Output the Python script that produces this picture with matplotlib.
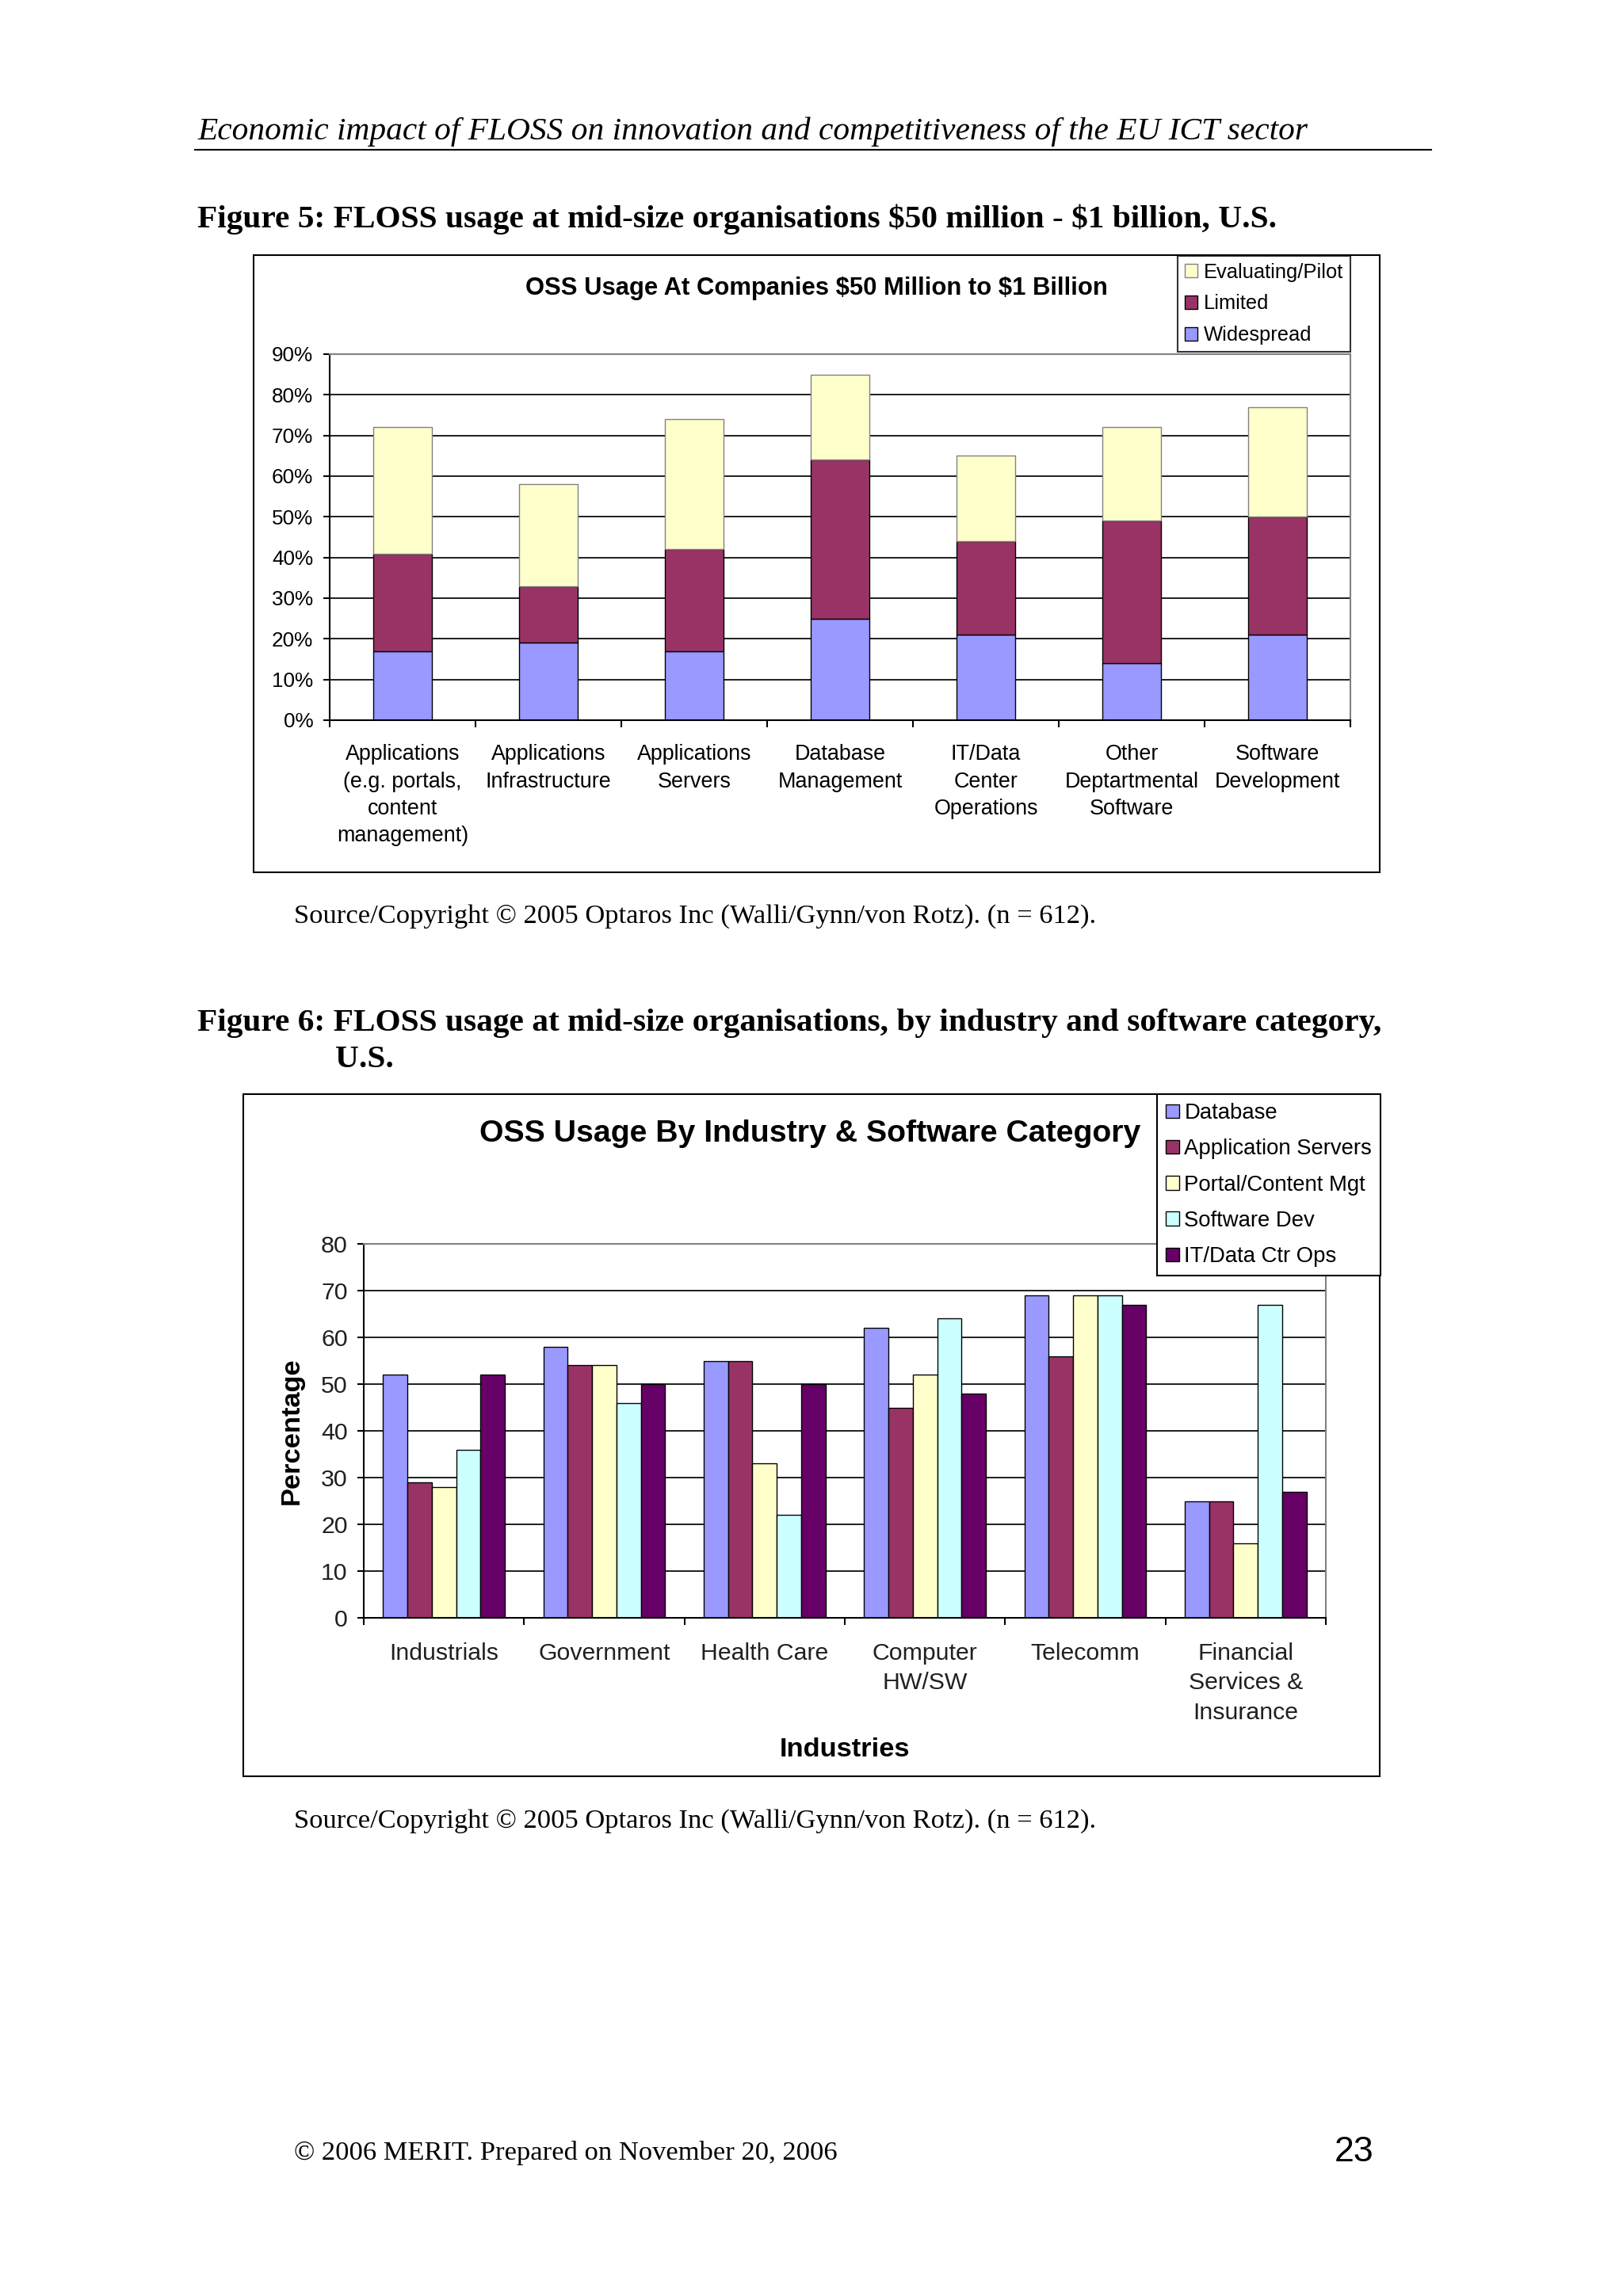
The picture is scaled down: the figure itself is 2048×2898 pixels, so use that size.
import numpy as np
import matplotlib
matplotlib.use("Agg")
from matplotlib import pyplot as plt
from matplotlib.patches import Rectangle
from matplotlib.lines import Line2D
from matplotlib.ticker import FuncFormatter, FixedLocator

W, H, DPI = 2048, 2898, 248

# ---- figure 5 data (percent of companies) ----
cats1 = ['Applications\n(e.g. portals,\ncontent\nmanagement)', 'Applications\nInfrastructure',
         'Applications\nServers', 'Database\nManagement', 'IT/Data\nCenter\nOperations',
         'Other\nDeptartmental\nSoftware', 'Software\nDevelopment']
widespread = [17, 19, 17, 25, 21, 14, 21]
limited = [24, 14, 25, 39, 23, 35, 29]
evaluating = [31, 25, 32, 21, 21, 23, 27]

# ---- figure 6 data ----
industries = ['Industrials', 'Government', 'Health Care', 'Computer\nHW/SW', 'Telecomm',
              'Financial\nServices &\nInsurance']
categories = ['Database', 'Application Servers', 'Portal/Content Mgt', 'Software Dev', 'IT/Data Ctr Ops']
database = [52, 58, 55, 62, 69, 25]
app_servers = [29, 54, 55, 45, 56, 25]
portal = [28, 54, 33, 52, 69, 16]
software_dev = [36, 46, 22, 64, 69, 67]
it_ops = [52, 50, 50, 48, 67, 27]

c_blue, c_plum, c_cream, c_cyan, c_purple = '#9999FF', '#993366', '#FFFFCC', '#CCFFFF', '#660066'
SANS = 'Liberation Sans'
SERIF = 'Liberation Serif'


def box(x0, x1, y0, y1):
    # pixel box -> figure fraction [left, bottom, width, height]
    return [x0 / W, 1 - y1 / H, (x1 - x0) / W, (y1 - y0) / H]


fig = plt.figure(figsize=(W / DPI, H / DPI), dpi=DPI, facecolor='white')

# page furniture
fig.text(249 / W, 1 - 176 / H, 'Economic impact of FLOSS on innovation and competitiveness of the EU ICT sector',
         family=SERIF, style='italic', fontsize=12, va='baseline')
fig.add_artist(Line2D([246 / W, 1806 / W], [1 - 188.5 / H] * 2, color='black', lw=0.6))
fig.text(249 / W, 1 - 287 / H, 'Figure 5: FLOSS usage at mid-size organisations \\$50 million - \\$1 billion, U.S.',
         family=SERIF, weight='bold', fontsize=12, va='baseline')
fig.text(371 / W, 1 - 1165 / H, 'Source/Copyright © 2005 Optaros Inc (Walli/Gynn/von Rotz). (n = 612).',
         family=SERIF, fontsize=10, va='baseline')
fig.text(249 / W, 1 - 1301 / H,
         'Figure 6: FLOSS usage at mid-size organisations, by industry and software category,',
         family=SERIF, weight='bold', fontsize=12, va='baseline')
fig.text(423 / W, 1 - 1347 / H, 'U.S.', family=SERIF, weight='bold', fontsize=12, va='baseline')
fig.text(371 / W, 1 - 2307 / H, 'Source/Copyright © 2005 Optaros Inc (Walli/Gynn/von Rotz). (n = 612).',
         family=SERIF, fontsize=10, va='baseline')
fig.text(371 / W, 1 - 2726 / H, '© 2006 MERIT. Prepared on November 20, 2006',
         family=SERIF, fontsize=10, va='baseline')
fig.text(1734 / W, 1 - 2728 / H, '23', family=SANS, fontsize=13, va='baseline', ha='right')

# chart frames
for x0, x1, y0, y1 in [(320, 1741, 322, 1101), (307, 1741, 1381, 2242)]:
    fig.add_artist(Rectangle((x0 / W, 1 - y1 / H), (x1 - x0) / W, (y1 - y0) / H,
                             transform=fig.transFigure, fill=False, ec='black', lw=0.6))


def style_axes(ax, ncat):
    ax.set_xlim(-0.5, ncat - 0.5)
    ax.set_axisbelow(True)
    ax.yaxis.grid(True, color='black', lw=0.5)
    for s in ['top', 'right']:
        ax.spines[s].set_color('#808080')
        ax.spines[s].set_linewidth(0.6)
    for s in ['left', 'bottom']:
        ax.spines[s].set_linewidth(0.6)
    ax.set_xticks(range(ncat))
    ax.xaxis.set_minor_locator(FixedLocator(np.arange(-0.5, ncat, 1)))
    ax.tick_params(axis='x', which='major', length=0)
    ax.tick_params(axis='x', which='minor', length=2.6, width=0.6)
    ax.tick_params(axis='y', length=2.4, width=0.6)


# ---- chart 1: stacked bars ----
ax1 = fig.add_axes(box(416, 1704, 447, 909))
x1 = np.arange(len(cats1))
bw1 = 0.4
ax1.bar(x1, widespread, bw1, color=c_blue, ec='black', lw=0.4, label='Widespread')
ax1.bar(x1, limited, bw1, bottom=widespread, color=c_plum, ec='black', lw=0.4, label='Limited')
ax1.bar(x1, evaluating, bw1, bottom=np.add(widespread, limited), color=c_cream, ec='#808080', lw=0.4,
        label='Evaluating/Pilot')
ax1.set_ylim(0, 90)
ax1.set_yticks(range(0, 91, 10))
ax1.yaxis.set_major_formatter(FuncFormatter(lambda v, p: f'{int(v)}%'))
style_axes(ax1, len(cats1))
ax1.set_xticklabels(cats1, family=SANS, fontsize=7.8, linespacing=1.41, va='top')
ax1.tick_params(axis='x', which='major', pad=8.8)
ax1.tick_params(axis='y', pad=3.6, labelsize=7.6)
for t in ax1.get_yticklabels():
    t.set_family(SANS)
fig.text(1030 / W, 1 - 364 / H, 'OSS Usage At Companies \\$50 Million to \\$1 Billion',
         family=SANS, weight='bold', fontsize=9, ha='center', va='center')
h1, l1 = ax1.get_legend_handles_labels()
leg1 = fig.legend(h1[::-1], l1[::-1], loc='upper left', bbox_to_anchor=(1486 / W, 1 - 323 / H),
                  prop={'family': SANS, 'size': 7.4}, frameon=True, fancybox=False, edgecolor='black',
                  handlelength=0.65, handleheight=0.65, handletextpad=0.3, labelspacing=0.61,
                  borderpad=0.35, borderaxespad=0)
leg1.get_frame().set_linewidth(0.6)

# ---- chart 2: grouped bars ----
ax2 = fig.add_axes(box(459, 1673, 1570, 2042))
x2 = np.arange(len(industries))
bw2 = 0.152
series2 = [database, app_servers, portal, software_dev, it_ops]
colors2 = [c_blue, c_plum, c_cream, c_cyan, c_purple]
for i, (vals, col, lab) in enumerate(zip(series2, colors2, categories)):
    ax2.bar(x2 + (i - 2) * bw2, vals, bw2, color=col, ec='black', lw=0.4, label=lab)
ax2.set_ylim(0, 80)
ax2.set_yticks(range(0, 81, 10))
style_axes(ax2, len(industries))
ax2.set_xticklabels(industries, family=SANS, fontsize=8.8, linespacing=1.43, va='top', color='#202020')
ax2.tick_params(axis='x', which='major', pad=9)
ax2.tick_params(axis='y', pad=3.5, labelsize=8.8, labelcolor='#202020')
for t in ax2.get_yticklabels():
    t.set_family(SANS)
ax2.set_ylabel('Percentage', family=SANS, weight='bold', fontsize=10)
ax2.yaxis.set_label_coords(-0.062, 0.5)
ax2.set_xlabel('Industries', family=SANS, weight='bold', fontsize=10)
ax2.xaxis.set_label_coords(0.5, -0.32)
fig.text(1022 / W, 1 - 1431 / H, 'OSS Usage By Industry & Software Category',
         family=SANS, weight='bold', fontsize=11.4, ha='center', va='center')
h2, l2 = ax2.get_legend_handles_labels()
leg2 = fig.legend(h2, l2, loc='upper left', bbox_to_anchor=(1460 / W, 1 - 1381 / H),
                  prop={'family': SANS, 'size': 8}, frameon=True, fancybox=False, edgecolor='black',
                  framealpha=1, handlelength=0.6, handleheight=0.6, handletextpad=0.25,
                  labelspacing=0.7, borderpad=0.4, borderaxespad=0)
leg2.get_frame().set_linewidth(0.6)

plt.savefig('out.png', dpi=DPI, facecolor='white')
